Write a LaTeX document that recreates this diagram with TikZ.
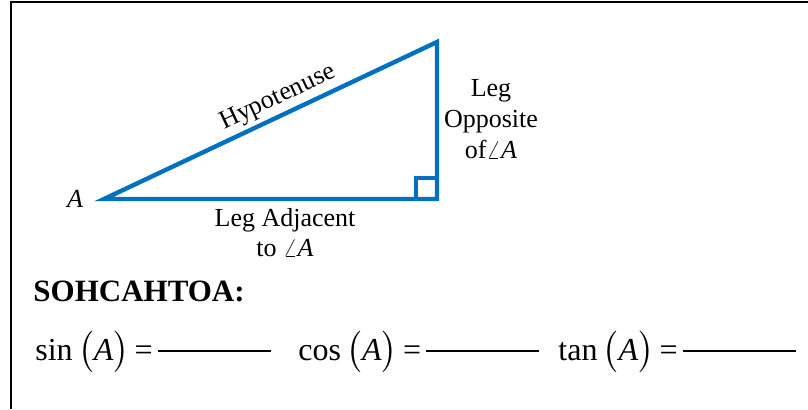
\documentclass[tikz,border=0pt]{standalone}
\usepackage{amsmath}
\usepackage{fontspec}
\setmainfont{Liberation Serif}
\usepackage{tikz}
\definecolor{triblue}{RGB}{0,112,192}
\newcommand{\ansline}{\rule[4pt]{56.5pt}{0.8pt}}

\begin{document}
\begin{tikzpicture}[x=0.5pt,y=-0.5pt,
  triside/.style={draw=triblue,line width=2.2pt},
  lbl/.style={font=\fontsize{13}{15}\selectfont,align=center},
  eqn/.style={font=\fontsize{16}{18}\selectfont,anchor=base west,inner sep=0pt}]
\useasboundingbox (0,0) rectangle (808,409);
\draw[line width=1pt] (808,1.5) -- (10.5,1.5) -- (10.5,409);

\coordinate (A) at (104,199);
\coordinate (C) at (437,199);
\coordinate (B) at (437,42);
\draw[triside] (A) -- (C) -- (B) -- cycle;
\draw[draw=triblue,line width=1.6pt] (C) ++(-21,0) -- ++(0,-21) -- ++(21,0);

\node[lbl] (a) at (75,199) {\textit{A}};
\node[lbl,rotate=25.2] (hyp) at (278,98) {Hypotenuse};
\node[lbl] (adj) at (285,233) {Leg Adjacent\\to $\angle$\textit{A}};
\node[lbl,font=\fontsize{13}{15.5}\selectfont] (opp) at (491,119) {Leg\\Opposite\\of$\angle$\textit{A}};

\node[anchor=base west,inner sep=0pt,font=\fontsize{15.5}{18}\selectfont\bfseries] (soh) at (33,301) {SOHCAHTOA:};
\node[eqn] (sin) at (35,360) {sin\,$\bigl($\textit{A}$\bigr)$\,=\,\ansline};
\node[eqn] (cos) at (298,360) {cos\,$\bigl($\textit{A}$\bigr)$\,=\,\ansline};
\node[eqn] (tan) at (558,360) {tan\,$\bigl($\textit{A}$\bigr)$\,=\,\ansline};
\end{tikzpicture}
\end{document}
